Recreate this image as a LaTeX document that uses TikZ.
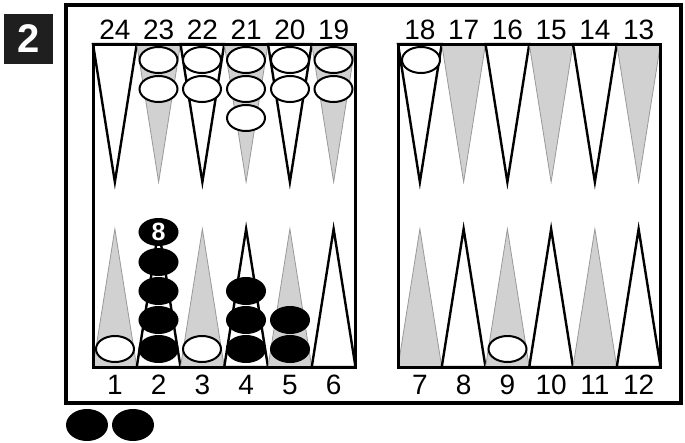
\documentclass[tikz,border=0pt]{standalone}
\usepackage{fontspec}
\setmainfont{Liberation Sans}
\usetikzlibrary{shapes.geometric}

\begin{document}
\begin{tikzpicture}[x=1pt,y=-1pt,
pointw/.style={draw,line width=2.4pt,fill=white},
pointg/.style={draw=black!40,line width=0.8pt,fill=black!18},
board/.style={draw,line width=3pt},
frame/.style={draw,line width=4.5pt},
num/.style={font=\fontsize{28}{30}\selectfont,inner sep=0pt},
wchk/.style={ellipse,draw,line width=2pt,fill=white,minimum width=38pt,minimum height=26pt,inner sep=0pt},
bchk/.style={ellipse,draw,line width=2pt,fill=black,minimum width=38pt,minimum height=26pt,inner sep=0pt,text=white,font=\fontsize{25}{25}\selectfont\bfseries}]
\useasboundingbox (0,0) rectangle (685,442);
\node[fill=black!88,minimum width=49pt,minimum height=50pt,inner sep=0pt,text=white,font=\fontsize{40}{40}\selectfont\bfseries] (badge) at (28.5,39) {2};
\path[frame] (66,5) rectangle (681,403);
% points
\foreach \bx/\t/\b in {93/24/1,398/18/7}{
  \foreach \k in {0,...,5}{
    \pgfmathsetmacro{\xl}{\bx+43.75*\k}
    \pgfmathsetmacro{\xr}{\xl+43.75}
    \pgfmathsetmacro{\xc}{\xl+21.875}
    \pgfmathtruncatemacro{\ntop}{\t-\k}
    \pgfmathtruncatemacro{\nbot}{\b+\k}
    \ifodd\k
      \path[pointg] (\xl,44) -- (\xc,182) -- (\xr,44) -- cycle;
      \path[pointw] (\xl,367) -- (\xc,229) -- (\xr,367) -- cycle;
    \else
      \path[pointw] (\xl,44) -- (\xc,182) -- (\xr,44) -- cycle;
      \path[pointg] (\xl,367) -- (\xc,229) -- (\xr,367) -- cycle;
    \fi
    \node[num] (n\ntop) at (\xc,30) {\ntop};
    \node[num] (n\nbot) at (\xc,385) {\nbot};
  }
}
\path[board] (93,44) rectangle (355.5,367);
\path[board] (398,44) rectangle (660.5,367);
% white checkers
\node[wchk] (w23a) at (158.5,60) {};
\node[wchk] (w23b) at (158.5,89) {};
\node[wchk] (w22a) at (202,60) {};
\node[wchk] (w22b) at (202,89) {};
\node[wchk] (w21a) at (246,60) {};
\node[wchk] (w21b) at (246,89) {};
\node[wchk] (w21c) at (246,118) {};
\node[wchk] (w20a) at (290,60) {};
\node[wchk] (w20b) at (290,89) {};
\node[wchk] (w19a) at (333.5,60) {};
\node[wchk] (w19b) at (333.5,89) {};
\node[wchk] (w18a) at (421,60) {};
\node[wchk] (w1a) at (115,349) {};
\node[wchk] (w3a) at (202,349) {};
\node[wchk] (w9a) at (507.5,349) {};
% black checkers
\node[bchk] (b2a) at (158.5,349) {};
\node[bchk] (b2b) at (158.5,320) {};
\node[bchk] (b2c) at (158.5,291) {};
\node[bchk] (b2d) at (158.5,262) {};
\node[bchk] (b2e) at (158.5,232) {8};
\node[bchk] (b4a) at (246,349) {};
\node[bchk] (b4b) at (246,320) {};
\node[bchk] (b4c) at (246,291) {};
\node[bchk] (b5a) at (290,349) {};
\node[bchk] (b5b) at (290,320) {};
\node[bchk,minimum width=40pt,minimum height=30pt] (bar1) at (87,425) {};
\node[bchk,minimum width=40pt,minimum height=30pt] (bar2) at (133,425) {};
\end{tikzpicture}
\end{document}
